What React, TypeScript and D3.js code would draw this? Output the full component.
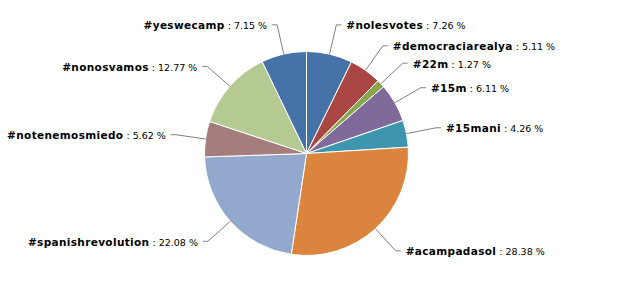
import React from "react";
import * as d3 from "d3";

const categories = ["#nolesvotes", "#democraciarealya", "#22m", "#15m", "#15mani", "#acampadasol", "#spanishrevolution", "#notenemosmiedo", "#nonosvamos", "#yeswecamp"];
const values = [7.26, 5.11, 1.27, 6.11, 4.26, 28.38, 22.08, 5.62, 12.77, 7.15];
const colors = ["#4572A7", "#AA4643", "#89A54E", "#80699B", "#3D96AE", "#DB843D", "#92A8CD", "#A47D7C", "#B5CA92", "#4572A7"];

const W = 642, H = 303;
const cx = 306.5, cy = 153.5, R = 102, D = 30;

export default function App() {
  const data = categories.map((c, i) => ({ name: c, value: values[i], color: colors[i] }));
  const pie = d3.pie<any>().sort(null).value((d: any) => d.value).startAngle(0).endAngle(2 * Math.PI);
  const arcs = pie(data);
  const arc = d3.arc<any>().innerRadius(0).outerRadius(R);
  return (
    <svg width={W} height={H} style={{ position: "absolute", left: 0, top: 0, background: "#fff" }}
      fontFamily="'DejaVu Sans', Verdana, sans-serif" fontSize={10}>
      <g transform={`translate(${cx},${cy})`}>
        {arcs.map((a, i) => (
          <path key={i} d={arc(a) as string} fill={a.data.color} stroke="#fff" strokeWidth={1} strokeLinejoin="round" />
        ))}
        {arcs.map((a, i) => {
          const m = (a.startAngle + a.endAngle) / 2;
          const sx = Math.sin(m), sy = -Math.cos(m);
          const ex = R * sx, ey = R * sy;
          const bx = (R + D) * sx, by = (R + D) * sy;
          const right = sx >= 0;
          const hx = bx + (right ? 5 : -5);
          const tx = bx + (right ? 10 : -10);
          return (
            <g key={"l" + i}>
              <path d={`M${hx},${by}L${bx},${by}L${ex},${ey}`} fill="none" stroke="#808080" strokeWidth={1} />
              <text x={tx} y={by} dy="0.45em" textAnchor={right ? "start" : "end"} fill="#000">
                <tspan fontWeight="bold" fontSize={10.5} letterSpacing={0.35}>{a.data.name}</tspan>
                <tspan fontSize={9.5}>{` : ${a.data.value.toFixed(2)} %`}</tspan>
              </text>
            </g>
          );
        })}
      </g>
    </svg>
  );
}
